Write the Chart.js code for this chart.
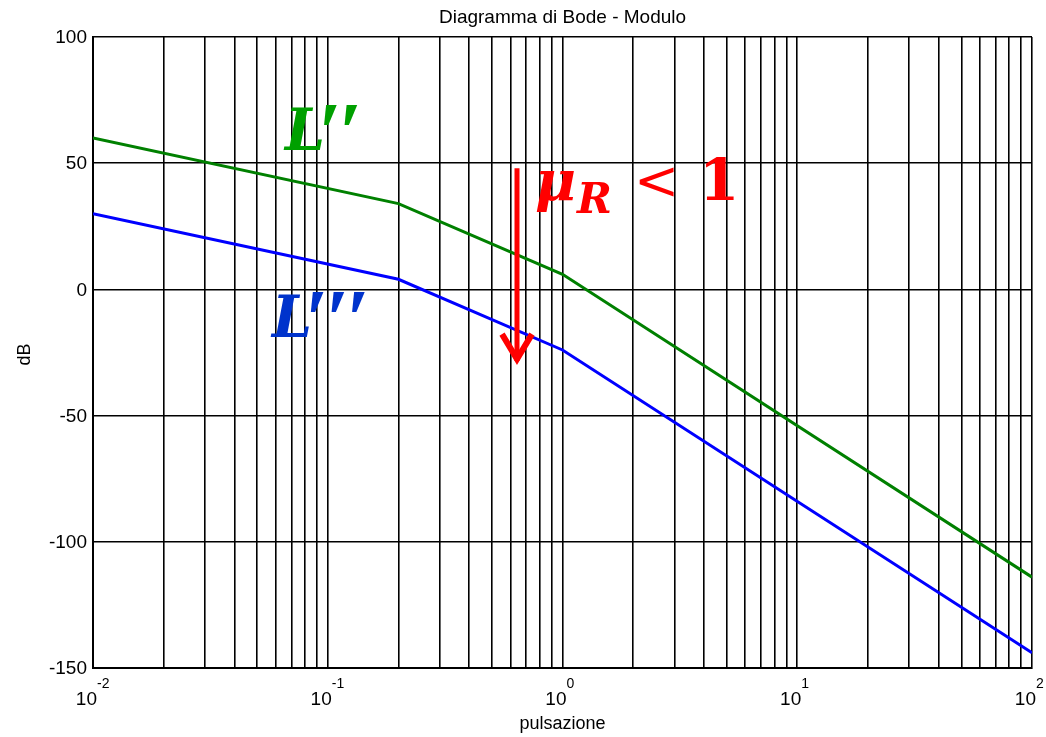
<!DOCTYPE html>
<html>
<head>
<meta charset="utf-8">
<script src="https://cdn.jsdelivr.net/npm/chart.js@4"></script>
<style>
  html, body { margin: 0; padding: 0; background: #ffffff; }
  canvas { display: block; }
</style>
</head>
<body>
<canvas id="bode" width="1046" height="737"></canvas>
<script>
// Asymptotic magnitude plots (dB) at the break frequencies
const pulsazione = [0.01, 0.2, 1, 100];
const moduloL2 = [60, 34, 6, -114];
const moduloL3 = [30, 4, -24, -144];

// Axis ticks
const xDecades = [0.01, 0.1, 1, 10, 100];
const xExponents = ['-2', '-1', '0', '1', '2'];
const yTicks = [-150, -100, -50, 0, 50, 100];

// Gain reduction arrow (frequency, from dB, to dB)
const arrowX = 0.64;
const arrowFrom = 48;
const arrowTo = -30;

// Label anchors (frequency, dB)
const labelL2 = [0.0658, 55.2];
const labelL3 = [0.0579, -18.9];
const labelMu = [0.786, 35.4];

// Log grid: 1..9 in each decade, plus the last decade
const logGrid = [];
for (let i = 0; i < xDecades.length - 1; i++) {
  for (let k = 1; k <= 9; k++) logGrid.push(+(k * xDecades[i]).toPrecision(3));
}
logGrid.push(xDecades[xDecades.length - 1]);

const SANS = '"Liberation Sans", Arial, sans-serif';
const SERIF = '"DejaVu Serif", "Liberation Serif", serif';
const PRIME = '"Liberation Serif", "Times New Roman", serif';

// Draws a bold italic L followed by n primes
function drawPrimed(ctx, px, py, n) {
  ctx.font = 'italic bold 57px ' + SERIF;
  ctx.fillText('L', px, py);
  const w = ctx.measureText('L').width;
  ctx.font = 'italic bold 84px ' + PRIME;
  ctx.letterSpacing = '-3px';
  ctx.fillText('\u2032'.repeat(n), px + w - 8, py + 11);
  ctx.letterSpacing = '0px';
}

const bodeText = {
  id: 'bodeText',
  afterDraw(chart) {
    const { ctx, chartArea: a, scales: { x, y } } = chart;
    ctx.save();

    // Title
    ctx.fillStyle = '#000';
    ctx.font = '19px ' + SANS;
    ctx.textAlign = 'center';
    ctx.textBaseline = 'alphabetic';
    ctx.fillText('Diagramma di Bode - Modulo', (a.left + a.right) / 2, 23);

    // Y tick labels
    ctx.font = '19px ' + SANS;
    ctx.textAlign = 'right';
    ctx.textBaseline = 'middle';
    yTicks.forEach(v => ctx.fillText(String(v), a.left - 6, y.getPixelForValue(v) + 1));

    // X tick labels: 10 with raised exponent
    xDecades.forEach((v, i) => {
      const px = x.getPixelForValue(v);
      ctx.textBaseline = 'alphabetic';
      ctx.font = '19px ' + SANS;
      ctx.textAlign = 'right';
      ctx.fillText('10', px + 4, 705);
      ctx.font = '14px ' + SANS;
      ctx.textAlign = 'left';
      ctx.fillText(xExponents[i], px + 4, 688);
    });

    // Axis titles
    ctx.font = '18px ' + SANS;
    ctx.textAlign = 'center';
    ctx.textBaseline = 'alphabetic';
    ctx.fillText('pulsazione', (a.left + a.right) / 2, 729);
    ctx.save();
    ctx.translate(25, (a.top + a.bottom) / 2 + 2);
    ctx.rotate(-Math.PI / 2);
    ctx.textBaseline = 'middle';
    ctx.fillText('dB', 0, 0);
    ctx.restore();

    // Arrow
    const ax = x.getPixelForValue(arrowX);
    const ay0 = y.getPixelForValue(arrowFrom);
    const ay1 = y.getPixelForValue(arrowTo);
    ctx.strokeStyle = '#ff0000';
    ctx.lineWidth = 5;
    ctx.lineCap = 'butt';
    ctx.beginPath();
    ctx.moveTo(ax, ay0);
    ctx.lineTo(ax, ay1 - 4);
    ctx.stroke();
    ctx.lineWidth = 6;
    ctx.lineJoin = 'miter';
    ctx.beginPath();
    ctx.moveTo(ax - 15, ay1 - 31);
    ctx.lineTo(ax, ay1 - 6);
    ctx.lineTo(ax + 15, ay1 - 31);
    ctx.stroke();

    // Curve labels
    ctx.textAlign = 'left';
    ctx.textBaseline = 'alphabetic';
    ctx.fillStyle = '#00a000';
    drawPrimed(ctx, x.getPixelForValue(labelL2[0]), y.getPixelForValue(labelL2[1]), 2);
    ctx.fillStyle = '#0033cc';
    drawPrimed(ctx, x.getPixelForValue(labelL3[0]), y.getPixelForValue(labelL3[1]), 3);

    // mu_R < 1
    const mx = x.getPixelForValue(labelMu[0]);
    const my = y.getPixelForValue(labelMu[1]);
    ctx.fillStyle = '#ff0000';
    ctx.font = 'italic bold 56px ' + SERIF;
    ctx.fillText('\u03bc', mx - 3, my);
    ctx.font = 'italic bold 42px ' + SERIF;
    ctx.fillText('R', mx + 39, my + 13);
    ctx.font = '54px ' + SERIF;
    ctx.fillText('<', mx + 96, my - 1);
    ctx.font = 'bold 58px ' + SERIF;
    ctx.fillText('1', mx + 161, my);

    ctx.restore();
  }
};

new Chart(document.getElementById('bode'), {
  type: 'scatter',
  data: {
    datasets: [
      {
        label: "L''",
        data: pulsazione.map((w, i) => ({ x: w, y: moduloL2[i] })),
        showLine: true,
        borderColor: '#008000',
        borderWidth: 3,
        pointRadius: 0,
        tension: 0
      },
      {
        label: "L'''",
        data: pulsazione.map((w, i) => ({ x: w, y: moduloL3[i] })),
        showLine: true,
        borderColor: '#0000ff',
        borderWidth: 3,
        pointRadius: 0,
        tension: 0
      }
    ]
  },
  options: {
    responsive: false,
    animation: false,
    layout: { padding: { left: 93, top: 37, right: 14, bottom: 69 } },
    plugins: { legend: { display: false }, title: { display: false }, tooltip: { enabled: false } },
    scales: {
      x: {
        type: 'logarithmic',
        min: xDecades[0],
        max: xDecades[xDecades.length - 1],
        afterBuildTicks: s => { s.ticks = logGrid.map(v => ({ value: v })); },
        ticks: { display: false },
        grid: { color: '#000', lineWidth: 1.6, drawTicks: false },
        border: { color: '#000', width: 2 }
      },
      y: {
        type: 'linear',
        min: yTicks[0],
        max: yTicks[yTicks.length - 1],
        afterBuildTicks: s => { s.ticks = yTicks.map(v => ({ value: v })); },
        ticks: { display: false },
        grid: { color: '#000', lineWidth: 1.6, drawTicks: false },
        border: { color: '#000', width: 2 }
      }
    }
  },
  plugins: [bodeText]
});
</script>
</body>
</html>
